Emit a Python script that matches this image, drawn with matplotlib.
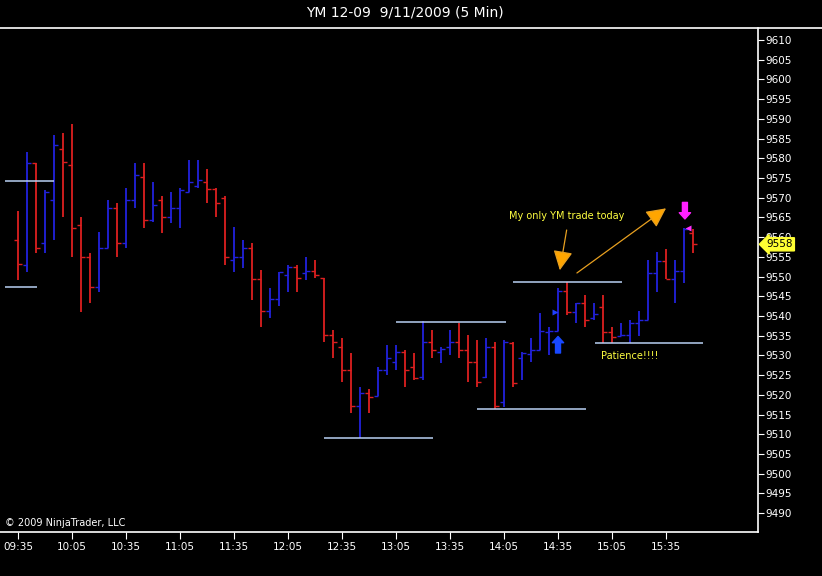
import matplotlib
matplotlib.use("Agg")
import matplotlib.pyplot as plt
import numpy as np
import pandas as pd
from matplotlib.lines import Line2D

# 5 min OHLC bars, YM 12-09 on 9/11/2009
opens = [9559.3, 9553.0, 9578.7, 9558.4, 9569.4, 9582.3, 9578.3, 9563.1, 9555.0, 9547.4,
         9557.2, 9567.3, 9558.4, 9569.4, 9575.3, 9564.3, 9569.4, 9565.2, 9567.3, 9571.5,
         9573.0, 9574.1, 9572.1, 9569.8, 9554.2, 9555.0, 9557.2, 9549.3, 9541.3, 9544.3,
         9550.4, 9552.5, 9551.0, 9551.5, 9549.6, 9535.2, 9532.2, 9526.3, 9517.2, 9520.4,
         9519.8, 9526.3, 9528.4, 9530.9, 9527.1, 9524.6, 9533.5, 9530.9, 9532.2, 9533.5,
         9531.4, 9528.4, 9524.6, 9532.2, 9518.2, 9533.2, 9529.3, 9530.3, 9531.4, 9535.9,
         9536.2, 9546.3, 9541.1, 9543.2, 9539.6, 9542.2, 9536.0, 9534.9, 9535.2, 9538.3,
         9539.1, 9551.0, 9554.0, 9549.3, 9551.4, 9561.0]
highs = [9566.5, 9581.7, 9578.7, 9572.0, 9585.9, 9586.5, 9588.7, 9565.2, 9555.9, 9561.4,
         9569.4, 9568.6, 9572.4, 9578.7, 9578.7, 9574.1, 9570.4, 9571.5, 9572.4, 9579.6,
         9579.6, 9577.4, 9572.4, 9570.4, 9562.6, 9559.3, 9558.4, 9551.7, 9547.0, 9551.2,
         9552.9, 9552.9, 9555.0, 9554.2, 9549.6, 9536.4, 9534.3, 9530.5, 9522.1, 9521.4,
         9527.1, 9532.6, 9532.6, 9531.4, 9530.5, 9538.6, 9536.4, 9532.2, 9536.4, 9538.3,
         9535.2, 9533.9, 9534.3, 9533.5, 9533.9, 9533.5, 9530.9, 9534.3, 9540.7, 9537.1,
         9547.0, 9548.5, 9543.2, 9545.3, 9543.2, 9545.3, 9537.3, 9538.1, 9539.1, 9541.3,
         9554.2, 9556.3, 9557.1, 9554.2, 9562.2, 9562.0]
lows = [9549.1, 9551.2, 9555.9, 9555.9, 9559.3, 9565.2, 9555.0, 9541.1, 9543.2, 9546.2,
        9557.2, 9555.0, 9557.2, 9567.3, 9562.2, 9563.9, 9561.0, 9563.5, 9562.2, 9571.5,
        9572.4, 9568.6, 9565.2, 9552.9, 9551.2, 9552.1, 9544.1, 9537.3, 9539.4, 9542.4,
        9546.2, 9546.2, 9549.1, 9549.6, 9533.5, 9529.3, 9523.3, 9515.3, 9509.0, 9515.3,
        9519.7, 9525.0, 9526.3, 9522.1, 9523.8, 9523.8, 9529.3, 9528.0, 9530.1, 9529.3,
        9523.3, 9522.1, 9524.2, 9516.4, 9517.0, 9522.1, 9523.8, 9528.4, 9531.4, 9530.1,
        9536.2, 9540.2, 9538.1, 9537.1, 9539.0, 9533.1, 9533.1, 9534.8, 9533.1, 9534.9,
        9539.1, 9546.2, 9549.3, 9543.2, 9548.3, 9555.9]
closes = [9553.2, 9578.7, 9557.2, 9571.5, 9583.4, 9579.1, 9562.2, 9555.0, 9547.4, 9557.2,
          9567.3, 9558.4, 9569.4, 9575.7, 9564.3, 9568.1, 9565.2, 9567.3, 9572.0, 9574.1,
          9574.6, 9572.1, 9568.6, 9555.0, 9555.0, 9557.2, 9549.3, 9541.3, 9544.3, 9551.2,
          9552.5, 9549.6, 9551.5, 9550.4, 9535.2, 9533.5, 9526.3, 9517.2, 9520.4, 9519.4,
          9526.3, 9529.3, 9530.9, 9526.3, 9524.2, 9533.5, 9531.4, 9531.5, 9533.5, 9531.4,
          9528.4, 9523.3, 9532.2, 9517.2, 9533.5, 9522.9, 9530.7, 9531.4, 9536.2, 9536.2,
          9546.3, 9541.1, 9543.2, 9539.1, 9540.5, 9536.0, 9534.7, 9535.2, 9538.3, 9539.1,
          9551.0, 9554.0, 9549.3, 9551.4, 9562.0, 9558.3]
bar_times = pd.date_range("2009-09-11 09:35", periods=len(opens), freq="5min").strftime("%H:%M")

# hand drawn support / resistance lines (price, first bar, last bar)
level_prices = [9574.2, 9547.4, 9509.0, 9538.4, 9516.3, 9548.5, 9533.1]
level_starts = [-1.45, -1.45, 34, 42, 51, 55, 64.1]
level_ends = [4, 2.1, 46.1, 54.2, 63.1, 67.1, 76.1]

last_price = 9558

UP = "#2222dd"
DOWN = "#dd2020"
TXT = "#ffff40"

fig = plt.figure(figsize=(8.22, 5.76), dpi=100, facecolor="black")
ax = fig.add_axes([0, 44 / 576, 758 / 822, 504 / 576], facecolor="black")

x = np.arange(len(opens))
o, h, l, c = map(np.array, (opens, highs, lows, closes))
colors = np.where(c >= o, UP, DOWN)

# OHLC bars
ax.vlines(x, l, h, colors=colors, lw=1.3)
ax.hlines(o, x - 0.42, x, colors=colors, lw=1.0)
ax.hlines(c, x, x + 0.42, colors=colors, lw=1.0)

# level lines
ax.hlines(level_prices, level_starts, level_ends, colors="#b8d0f4", lw=1.1)

ax.set_xlim(-2, 82.22)
ax.set_ylim(9485.2, 9613.04)

# axes styling
for side in ("left", "top"):
    ax.spines[side].set_visible(False)
for side in ("right", "bottom"):
    ax.spines[side].set_color("white")
    ax.spines[side].set_linewidth(1.2)

ax.yaxis.tick_right()
ax.set_yticks(np.arange(9490, 9611, 5))
ax.tick_params(axis="y", colors="white", labelsize=7.5, length=4, pad=1)
ticks = x[::6]
ax.set_xticks(ticks)
ax.set_xticklabels(bar_times[::6])
ax.tick_params(axis="x", colors="white", labelsize=7.5, length=5, pad=2)

# title + separator line
fig.text(405 / 822, 1 - 13 / 576, "YM 12-09  9/11/2009 (5 Min)", color="white",
         fontsize=10, ha="center", va="center")
fig.add_artist(Line2D([0, 1], [1 - 28 / 576] * 2, color="white", lw=1.2))

ax.text(0.006, 0.008, "\u00a9 2009 NinjaTrader, LLC", transform=ax.transAxes,
        color="white", fontsize=7, ha="left", va="bottom")

# last price tag (sits over the 9560 label, like the original)
ax.annotate(str(last_price), xy=(1.0, last_price), xycoords=("axes fraction", "data"),
            xytext=(6, 0.5), textcoords="offset points", color="black", fontsize=7.5,
            ha="left", va="center", annotation_clip=False, zorder=5,
            bbox=dict(boxstyle="larrow,pad=0.15", fc="#ffff33", ec="#ffff33"))

# trade notes
ax.text(61, 9565.3, "My only YM trade today", color=TXT, fontsize=7, ha="center", va="center")
ax.text(68, 9529.8, "Patience!!!!", color=TXT, fontsize=7, ha="center", va="center")

orange = dict(arrowstyle="-|>,head_length=1.2,head_width=0.6", mutation_scale=10,
              color="#e8a020", fc="#ffa500", lw=0.9, shrinkA=0, shrinkB=0)
ax.annotate("", xy=(60.2, 9551.6), xytext=(60.96, 9561.8), arrowprops=orange)
ax.annotate("", xy=(72.0, 9567.3), xytext=(62.1, 9550.9), arrowprops=orange)

# entry / exit markers
ax.annotate("", xy=(60, 9534.8), xytext=(60, 9530.6),
            arrowprops=dict(arrowstyle="simple,head_length=0.5,head_width=0.9,tail_width=0.4",
                            mutation_scale=9, color="#1848ff", shrinkA=0, shrinkB=0))
ax.annotate("", xy=(74.1, 9564.6), xytext=(74.1, 9568.8),
            arrowprops=dict(arrowstyle="simple,head_length=0.5,head_width=0.9,tail_width=0.4",
                            mutation_scale=9, color="#ff20ff", shrinkA=0, shrinkB=0))
ax.plot(59.7, 9541.0, marker=">", color="#2040ff", ms=5, mec="none")
ax.plot(74.4, 9562.2, marker="<", color="#ff30ff", ms=5, mec="none")

fig.savefig("out.png", dpi=100, facecolor="black")
